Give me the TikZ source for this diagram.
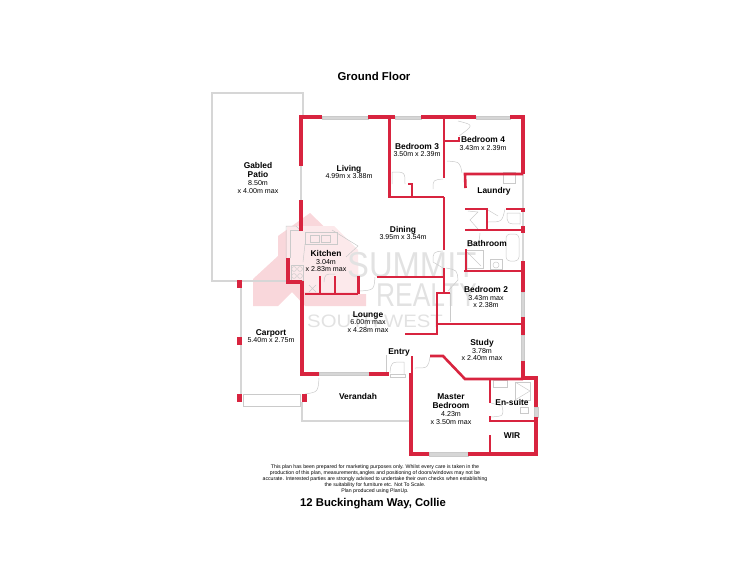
\documentclass[tikz,border=0pt]{standalone}
\usepackage{fontspec}
\setmainfont{Liberation Sans}
\definecolor{wallred}{HTML}{D8243F}
\definecolor{fixgrey}{HTML}{CACACA}
\definecolor{patiogrey}{HTML}{D6D6D6}
\definecolor{panegrey}{HTML}{D6D6D6}
\definecolor{markgrey}{HTML}{E2E2E2}
\definecolor{pinkwing}{HTML}{F9D7DB}
\definecolor{pinkroom}{HTML}{FCE9EB}
\newcommand{\rname}[1]{{\fontsize{8.4}{8}\selectfont\bfseries #1}}
\tikzset{
    outerwall/.style={draw=wallred, line width=3.8pt},
    innerwall/.style={draw=wallred, line width=2.6pt},
    postblock/.style={fill=wallred},
    fixline/.style={draw=fixgrey, line width=0.5pt},
    patioline/.style={draw=patiogrey, line width=1.2pt},
    windowpane/.style={draw=fixgrey, line width=0.4pt, fill=panegrey},
    roomname/.style={font=\fontsize{8.4}{8}\selectfont\bfseries, align=center, inner sep=0pt},
    roomlabel/.style={font=\fontsize{7.1}{7.8}\selectfont, align=center, inner sep=0pt},
    logotext/.style={text=markgrey, anchor=base west, inner sep=0pt, transform shape},
}
\begin{document}
\begin{tikzpicture}[x=1pt, y=-1pt]
    \useasboundingbox (0,0) rectangle (750,562);
    \fill[pinkwing] (253,279) -- (278,256) -- (278,236) -- (310,213) -- (338,240) -- (358,263) -- (358,294) -- (366,294) -- (366,306) -- (305,306) -- (292,292) -- (278,306) -- (253,306) -- cycle;
    \fill[pinkroom] (287,226) -- (334,226) -- (358,250) -- (358,292) -- (304,292) -- (304,283) -- (287,283) -- cycle;
    \node[logotext, xscale=0.91, font=\fontsize{36}{36}\selectfont] (logoa) at (347,277.5) {SUMMIT};
    \node[logotext, xscale=0.8, font=\fontsize{33}{33}\selectfont] (logob) at (376,306) {REALTY};
    \node[logotext, xscale=1.13, font=\fontsize{18}{18}\selectfont] (logoc) at (307,327) {SOUTH WEST};

    \draw[patioline] (303,117) -- (303,93) -- (212,93) -- (212,281) -- (287,281);
    \draw[patioline] (301,166) -- (301,200);
    \draw[patioline] (241,284) -- (241,398);
    \draw[fixline, fill=white] (243,394) rectangle (300,406);
    \draw[patioline] (302,402) -- (302,421) -- (410,421);
    \draw[patioline] (523,174) -- (523,209);
    \draw[patioline] (523,212) -- (523,228);
    \draw[patioline] (523,232) -- (523,261);

    \draw[windowpane] (322,116) rectangle (368,119);
    \draw[windowpane] (395,116) rectangle (421,119);
    \draw[windowpane] (476,116) rectangle (510,119);
    \draw[windowpane] (319,372.5) rectangle (369,375.5);
    \draw[windowpane] (429,452) rectangle (468,456);
    \draw[windowpane] (521.5,292) rectangle (524.5,317);
    \draw[windowpane] (521.5,335) rectangle (524.5,361);
    \draw[windowpane] (534.5,407) rectangle (538,417);

    \draw[fixline] (286,258) -- (286,226) -- (296,226) -- (301,231);
    \draw[fixline] (290,258) -- (290,230) -- (299,230);
    \draw[fixline] (305,232) rectangle (337,244);
    \foreach \sx in {310,321} {\draw[fixline] (\sx,235) rectangle ++(9,7);}
    \draw[fixline] (305,244) -- (303,262);
    \draw[fixline] (291,265) rectangle (303,280);
    \foreach \hx/\hy in {294/269,300/269,294/276,300/276} {\draw[fixline] (\hx,\hy) circle (2.4);}
    \draw[fixline] (309,285) -- (316,292) (316,285) -- (309,292);
    \draw[fixline] (332,230) -- (358,246) -- (346,257);
    \draw[fixline] (324,282) .. controls (325,274) .. (335,274);
    \draw[fixline] (360,291) .. controls (374,290) .. (375,277);

    \draw[fixline] (392,184) -- (392,172) .. controls (405,172) .. (405,184);
    \draw[fixline] (458,121) .. controls (474,125) .. (459,136);
    \draw[fixline] (447,161) .. controls (460,162) .. (462,173);
    \draw[fixline] (443,179) .. controls (433,180) .. (433,189);
    \draw[fixline] (443,251) .. controls (433,252) .. (433,262) -- (443,268);
    \draw[fixline] (446,268) .. controls (457,270) .. (458,280) -- (448,291);
    \draw[fixline] (450,293) -- (450,322);
    \draw[fixline] (503,172) rectangle (515,183);
    \draw[fixline] (488,210) -- (498,216);
    \draw[fixline] (488,222) .. controls (502,222) .. (505,209);
    \draw[fixline] (468,211) -- (478,212) -- (470,220) -- (478,229) -- (468,229);
    \draw[fixline] (507,213) .. controls (507,224) .. (520,224) -- (520,213) -- cycle;
    \draw[fixline] (480,233) .. controls (479,244) .. (467,247);
    \draw[fixline] (465,250) rectangle (483,268);
    \draw[fixline] (467,252) -- (481,266);
    \draw[fixline, rounded corners=4pt] (506,234) rectangle (519,261);
    \draw[fixline] (490,259) rectangle (502,269);
    \draw[fixline] (496,265) circle (3);
    \draw[fixline] (319,378) .. controls (318,392) .. (305,394);
    \draw[fixline] (386,355) -- (386,374);
    \draw[fixline] (390,373) .. controls (391,362) .. (404,362) -- (404,374);
    \draw[fixline] (390,374) rectangle (405,377);
    \draw[fixline] (415,368) .. controls (428,368) .. (430,357);
    \draw[fixline] (491,417) .. controls (504,416) .. (502,406) -- (491,403);
    \draw[fixline] (493,380) rectangle (507,387);
    \draw[fixline] (515,382) rectangle (530,400);
    \draw[fixline] (515,382) -- (530,391) -- (515,400);
    \draw[fixline] (520,407) rectangle (528,413);

    \draw[outerwall] (322,117) -- (301,117) -- (301,166);
    \draw[outerwall] (301,200) -- (301,231);
    \draw[outerwall] (288,258) -- (288,282) -- (302,282);
    \draw[outerwall] (302,280.5) -- (302,374) -- (319,374);
    \draw[outerwall] (368,117) -- (395,117);
    \draw[outerwall] (421,117) -- (476,117);
    \draw[outerwall] (510,117) -- (523,117) -- (523,174);
    \draw[outerwall] (369,374) -- (389,374);
    \draw[outerwall] (523,292) -- (523,271);
    \draw[outerwall] (523,261) -- (523,271);
    \draw[outerwall] (523,317) -- (523,335);
    \draw[outerwall] (523,361) -- (523,378) -- (536,378) -- (536,407);
    \draw[outerwall] (536,417) -- (536,454) -- (468,454);
    \draw[outerwall] (429,454) -- (411,454) -- (411,374);
    \draw[innerwall] (409,374) -- (412,374) -- (412,356);
    \draw[innerwall] (430,356) -- (443,356) -- (465,379) -- (523,379);
    \draw[innerwall] (490,379) -- (490,403);
    \draw[innerwall] (490,416) -- (490,421) -- (534,421);
    \draw[innerwall] (490,435) -- (490,454);
    \draw[innerwall] (437,324) -- (523,324);
    \draw[innerwall] (450,293) -- (437,293) -- (437,334) -- (405,334);
    \draw[innerwall] (444,250) -- (444,197);
    \draw[innerwall] (444,268) -- (444,293);
    \draw[innerwall] (377,277) -- (444,277);
    \draw[innerwall] (389.5,118) -- (389.5,197) -- (444,197);
    \draw[innerwall] (408,184) -- (412,184) -- (412,197);
    \draw[innerwall] (444,118) -- (444,178);
    \draw[innerwall] (445,141) -- (459,141) -- (459,137);
    \draw[innerwall] (523,174) -- (465,174) -- (465.5,188);
    \draw[innerwall] (465,209) -- (487,209) -- (487,230);
    \draw[innerwall] (506,209) -- (523,209);
    \draw[outerwall] (523,208) -- (523,212);
    \draw[innerwall] (465,230) -- (523,230);
    \draw[outerwall] (523,226) -- (523,233);
    \draw[innerwall] (466,249) -- (466,271);
    \draw[innerwall] (464,271) -- (523,271);
    \draw[innerwall] (305,294) -- (358,294);
    \foreach \sx in {320,335,358.5} {\draw[innerwall] (\sx,276) -- (\sx,294);}
    \foreach \px/\py in {239/284,239/341,239/398,304/398} {\fill[postblock] (\px-2.5,\py-4) rectangle (\px+2.5,\py+4);}

    \node[font=\fontsize{11.4}{12}\selectfont\bfseries] (groundfloor) at (374,76) {Ground Floor};
    \node[roomlabel] (patiolabel) at (258,178) {\rname{Gabled}\\[1.2pt]\rname{Patio}\\8.50m\\x 4.00m max};
    \node[roomlabel] (livinglabel) at (349,172) {\rname{Living}\\4.99m x 3.88m};
    \node[roomlabel] (bedthreelabel) at (417,150) {\rname{Bedroom 3}\\3.50m x 2.39m};
    \node[roomlabel] (bedfourlabel) at (483,143.5) {\rname{Bedroom 4}\\3.43m x 2.39m};
    \node[roomname] (laundrylabel) at (494,191) {Laundry};
    \node[roomlabel] (dininglabel) at (403,233) {\rname{Dining}\\3.95m x 3.54m};
    \node[roomlabel] (kitchenlabel) at (326,261) {\rname{Kitchen}\\3.04m\\x 2.83m max};
    \node[roomname] (bathlabel) at (487,243) {Bathroom};
    \node[roomlabel] (bedtwolabel) at (486,297) {\rname{Bedroom 2}\\3.43m max\\x 2.38m};
    \node[roomlabel] (studylabel) at (482,350) {\rname{Study}\\3.78m\\x 2.40m max};
    \node[roomlabel] (loungelabel) at (368,322) {\rname{Lounge}\\6.00m max\\x 4.28m max};
    \node[roomlabel] (carportlabel) at (271,336) {\rname{Carport}\\5.40m x 2.75m};
    \node[roomname] (entrylabel) at (399,352) {Entry};
    \node[roomname] (verandahlabel) at (358,396) {Verandah};
    \node[roomlabel] (masterlabel) at (451,409) {\rname{Master}\\[1.2pt]\rname{Bedroom}\\4.23m\\x 3.50m max};
    \node[roomname] (ensuitelabel) at (512,402) {En-suite};
    \node[roomname] (wirlabel) at (512,436) {WIR};
    \node[font=\fontsize{5.2}{6}\selectfont, align=center, inner sep=0pt] (disclaimer) at (375,479) {This plan has been prepared for marketing purposes only. Whilst every care is taken in the\\production of this plan, measurements,angles and positioning of doors/windows may not be\\accurate. Interested parties are strongly advised to undertake their own checks when establishing\\the suitability for furniture etc. Not To Scale.\\Plan produced using PlanUp.};
    \node[font=\fontsize{11.3}{12}\selectfont\bfseries] (addresslabel) at (373,503.5) {12 Buckingham Way, Collie};
\end{tikzpicture}
\end{document}
